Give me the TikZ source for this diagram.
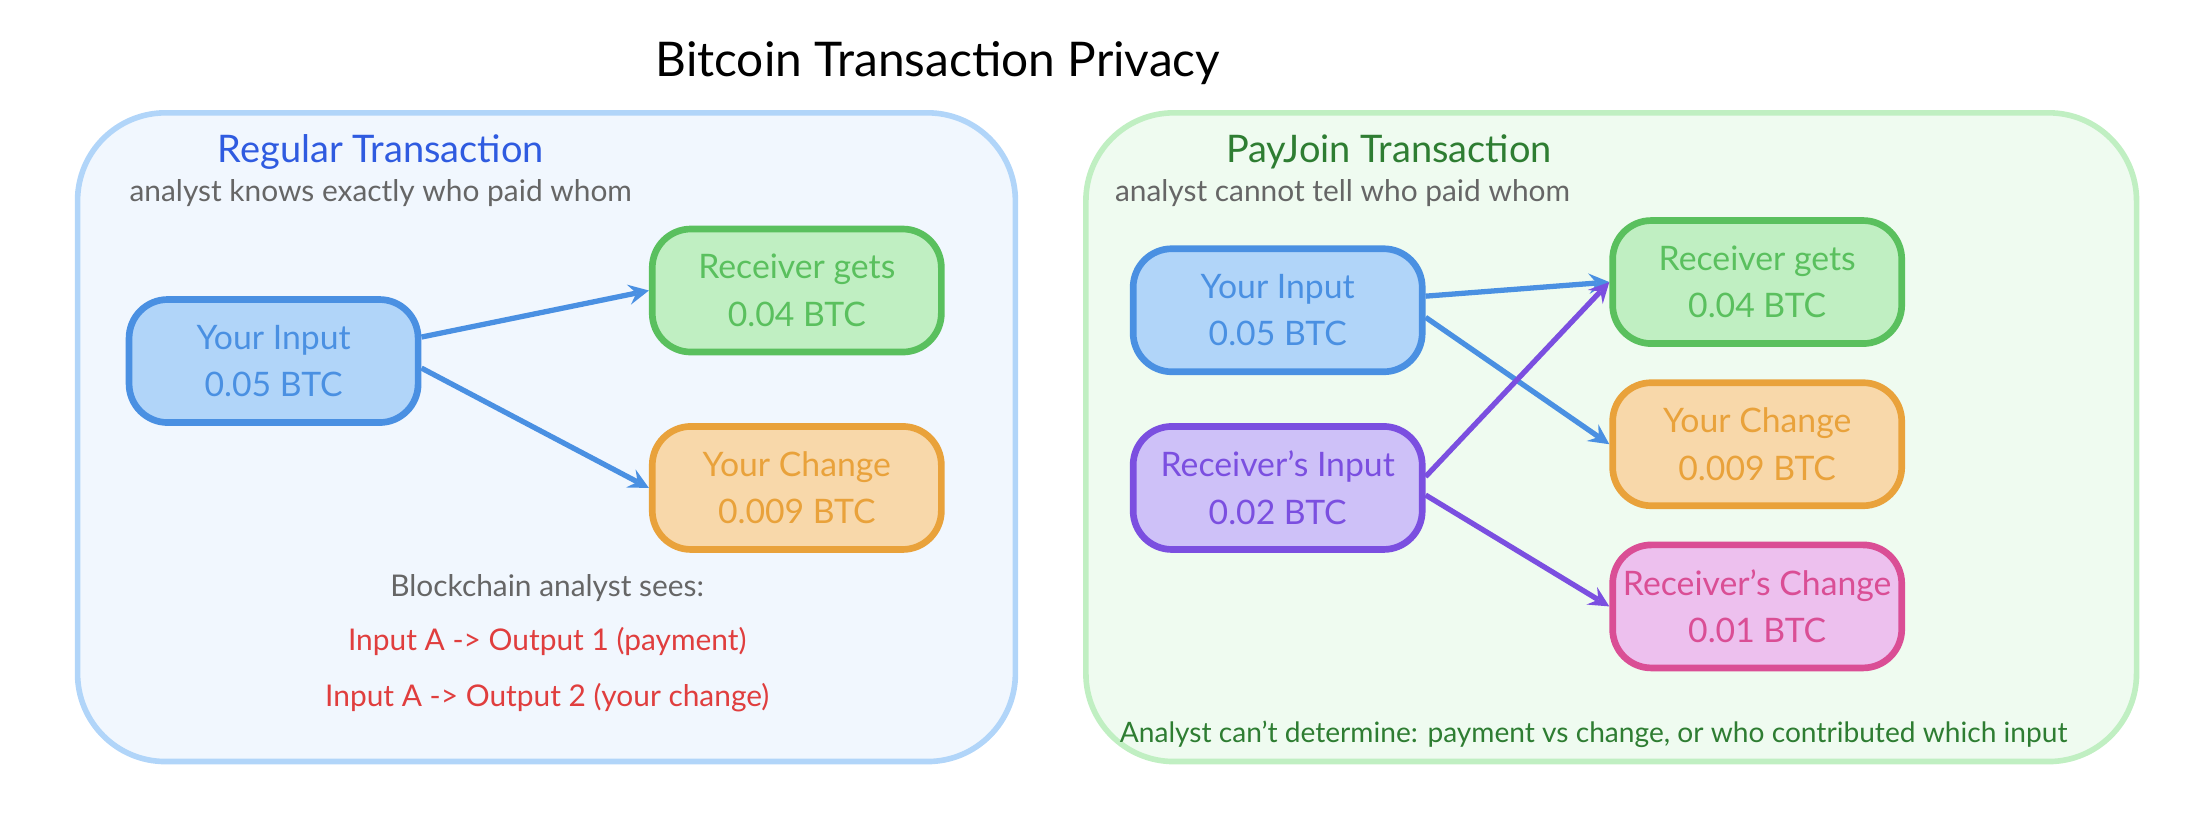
\documentclass[tikz,border=0pt]{standalone}
\usepackage{fontspec}
\setmainfont{Lato}
\usetikzlibrary{positioning, calc}
\definecolor{xblue}{HTML}{4A90E2}
\definecolor{xbluefill}{HTML}{B1D5F9}
\definecolor{xgreen}{HTML}{5AC05E}
\definecolor{xgreenfill}{HTML}{C0EFC2}
\definecolor{xorange}{HTML}{E9A23B}
\definecolor{xorangefill}{HTML}{F8D8AA}
\definecolor{xpurple}{HTML}{7B4FE0}
\definecolor{xpurplefill}{HTML}{CEC1F8}
\definecolor{xpink}{HTML}{DA4E95}
\definecolor{xpinkfill}{HTML}{EDC0EE}
\definecolor{xred}{HTML}{E03E3E}
\definecolor{xdgreen}{HTML}{2E7D32}
\definecolor{xtitleblue}{HTML}{2F5BE0}
\tikzset{
	box/.style={draw=#1, fill=#1fill, line width=1.9pt, rounded corners=11pt,
		minimum width=2.89cm, minimum height=1.23cm, inner sep=1pt, align=center,
		font=\fontsize{9.6}{13.5}\selectfont, text=#1},
	panel/.style={line width=1.6pt, rounded corners=25pt},
	link/.style={->, >=stealth, line width=1.5pt, draw=#1},
	note/.style={font=\fontsize{8.5}{10}\selectfont, text=black!60},
}
\begin{document}
\begin{tikzpicture}[x=0.0141cm, y=-0.0141cm]
		\useasboundingbox (0,0) rectangle (1560,582);

		\node[font=\fontsize{13.6}{16}\selectfont] (title) at (665,45) {Bitcoin Transaction Privacy};

		% regular transaction
		\draw[panel, draw=xbluefill, fill=xbluefill!18] (55,80) rectangle (720,540);
		\node[font=\fontsize{10.8}{13}\selectfont, text=xtitleblue] (rtitle) at (270,108) {Regular Transaction};
		\node[note] (rsub) at (270,137) {analyst knows exactly who paid whom};

		\node[box=xblue] (yin) at (194,256) {Your Input\\0.05 BTC};
		\node[box=xgreen] (rgets) at (565,206) {Receiver gets\\0.04 BTC};
		\node[box=xorange] (ychange) at (565,346) {Your Change\\0.009 BTC};
		\draw[link=xblue] (yin.east) ++(0,-17) coordinate (p) (p) -- (rgets.west);
		\draw[link=xblue] (yin.east) ++(0,5) coordinate (q) (q) -- (ychange.west);

		\node[note] (sees) at (388,417) {Blockchain analyst sees:};
		\node[note, text=xred] (out1) at (388,455) {Input A -> Output 1 (payment)};
		\node[note, text=xred] (out2) at (388,495) {Input A -> Output 2 (your change)};

		% payjoin transaction
		\draw[panel, draw=xgreenfill, fill=xgreenfill!25] (770,80) rectangle (1515,540);
		\node[font=\fontsize{10.8}{13}\selectfont, text=xdgreen] (ptitle) at (985,108) {PayJoin Transaction};
		\node[note] (psub) at (952,137) {analyst cannot tell who paid whom};

		\node[box=xblue] (pyin) at (906,220) {Your Input\\0.05 BTC};
		\node[box=xpurple] (prin) at (906,346) {Receiver's Input\\0.02 BTC};
		\node[box=xgreen] (pgets) at (1246,200) {Receiver gets\\0.04 BTC};
		\node[box=xorange] (pchange) at (1246,315) {Your Change\\0.009 BTC};
		\node[box=xpink] (prchange) at (1246,430) {Receiver's Change\\0.01 BTC};

		\draw[link=xblue] (pyin.east) ++(0,-10) coordinate (a) (a) -- (pgets.west);
		\draw[link=xblue] (pyin.east) ++(0,5) coordinate (b) (b) -- (pchange.west);
		\draw[link=xpurple] (prin.east) ++(0,-8) coordinate (c) (c) -- (pgets.west);
		\draw[link=xpurple] (prin.east) ++(0,5) coordinate (d) (d) -- (prchange.west);

		\node[note, font=\fontsize{8}{10}\selectfont, text=xdgreen] (pnote) at (1130,521) {Analyst can't determine: payment vs change, or who contributed which input};
	\end{tikzpicture}
\end{document}
